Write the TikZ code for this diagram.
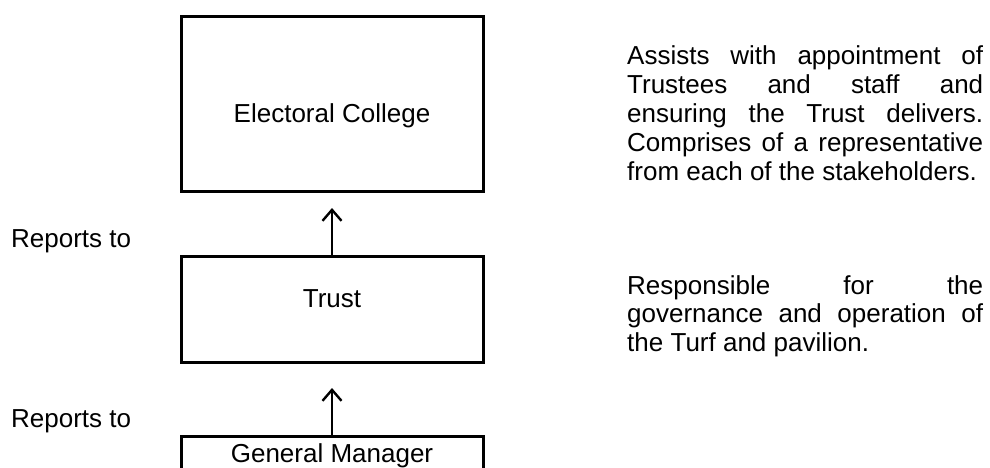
\documentclass[tikz,border=0pt]{standalone}
\usepackage{fontspec}
\setmainfont{Liberation Sans}
\usetikzlibrary{arrows.meta}
\begin{document}
\begin{tikzpicture}[x=1pt,y=-1pt,
  box/.style={draw, line width=3pt, minimum width=302pt, inner sep=0pt, font=\fontsize{26}{29}\selectfont},
  lbl/.style={inner sep=0pt, font=\fontsize{26}{29}\selectfont},
  desc/.style={inner sep=0pt, anchor=north west, align=left},
  arr/.style={line width=2.4pt, -{Straight Barb[length=11pt,width=19pt]}}]
\clip (0,0) rectangle (990,468);
\node[box, minimum height=174pt, text height=38pt, text depth=0pt] (ec) at (332,104) {Electoral College};
\node[box, minimum height=106pt, text height=18pt, text depth=22pt] (tr) at (332,309) {Trust};
\node[box, minimum height=60pt, text height=6pt, text depth=14pt] (gm) at (332,466) {General Manager};
\node[lbl, anchor=base west] (r1) at (11,247) {Reports to};
\node[lbl, anchor=base west] (r2) at (11,427) {Reports to};
\node[desc, font=\fontsize{26}{29}\selectfont] (d1) at (627,44) {\rule{0pt}{20pt}\makebox[356pt][s]{Assists with appointment of}\\
\makebox[356pt][s]{Trustees and staff and}\\
\makebox[356pt][s]{ensuring the Trust delivers.}\\
\makebox[356pt][s]{Comprises of a representative}\\
from each of the stakeholders.};
\node[desc, font=\fontsize{26}{28.6}\selectfont] (d2) at (627,274) {\rule{0pt}{20pt}\makebox[356pt][s]{Responsible for the}\\
\makebox[356pt][s]{governance and operation of}\\
the Turf and pavilion.};
\coordinate (t1) at (332,208);
\coordinate (t2) at (332,388);
\draw[arr] (tr.north) -- (t1);
\draw[arr] (gm.north) -- (t2);
\end{tikzpicture}
\end{document}
